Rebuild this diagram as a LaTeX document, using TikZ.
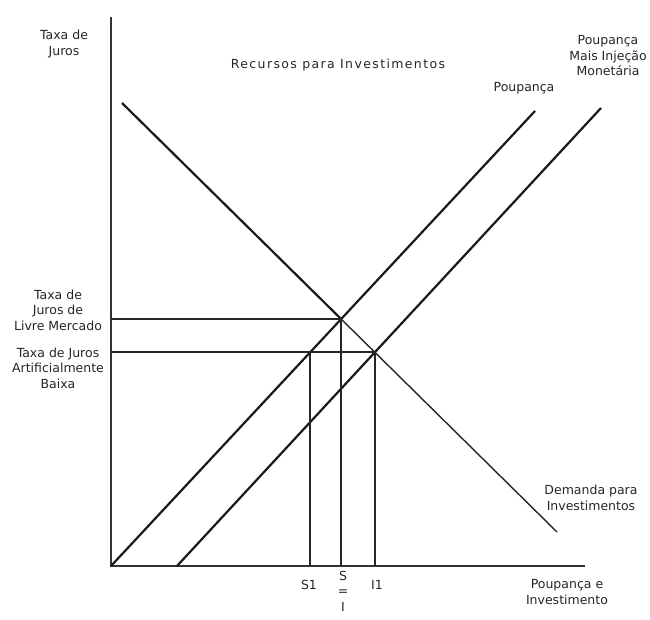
\documentclass[tikz,border=0pt]{standalone}
\usepackage{fontspec}
\setmainfont{DejaVu Sans}
\begin{document}
\begin{tikzpicture}[x=1pt,y=1pt,
  lbl/.style={align=center,font=\fontsize{12.5}{15.5}\selectfont,inner sep=0pt,text=black!85},
  axis/.style={line width=2pt,black!80},
  curve/.style={line width=2.2pt,black!90},
  thin curve/.style={line width=1.4pt,black!85},
  guide/.style={line width=1.6pt,black!85}]
\useasboundingbox (0,0) rectangle (650,619);
% axes
\coordinate (O) at (111,53);
\coordinate (Ytop) at (111,602);
\coordinate (Xend) at (585,53);
\draw[axis] (Ytop) -- (O) -- (Xend);
% curves endpoints
\coordinate (P1) at (111,53);
\coordinate (P2) at (535,508);
\coordinate (M1) at (177,53);
\coordinate (M2) at (601,511);
\coordinate (D1) at (122,516);
\coordinate (D2) at (557,87);
\coordinate (E) at (intersection of P1--P2 and D1--D2);
\coordinate (F) at (intersection of M1--M2 and D1--D2);
\coordinate (Fl) at (O |- F);
\coordinate (G) at (intersection of P1--P2 and Fl--F);
% lines
\draw[curve] (P1) -- (P2);
\draw[curve] (M1) -- (M2);
\draw[curve] (D1) -- (E);
\draw[thin curve] (E) -- (D2);
\draw[guide] (O |- E) -- (E) -- (E |- O);
\draw[guide] (Fl) -- (F) -- (F |- O);
\draw[guide] (G) -- (G |- O);
% labels
\node[lbl] (ylab) at (64,575) {Taxa de\\Juros};
\node[lbl] (title) at (338,554) {\addfontfeatures{LetterSpace=11}Recursos para Investimentos};
\node[lbl] (pou) at (524,531) {Poupança};
\node[lbl] (pmi) at (608,563) {Poupança\\Mais Injeção\\Monetária};
\node[lbl] (livre) at (58,309) {Taxa de\\Juros de\\Livre Mercado};
\node[lbl] (baixa) at (58,251) {Taxa de Juros\\Artificialmente\\Baixa};
\node[lbl] (dem) at (591,121) {Demanda para\\Investimentos};
\node[lbl] (s1) at (309,34) {S1};
\node[lbl,anchor=north] (si) at (343,48) {S\\=\\I};
\node[lbl] (i1) at (377,34) {I1};
\node[lbl] (xlab) at (567,27) {Poupança e\\Investimento};
\end{tikzpicture}
\end{document}
